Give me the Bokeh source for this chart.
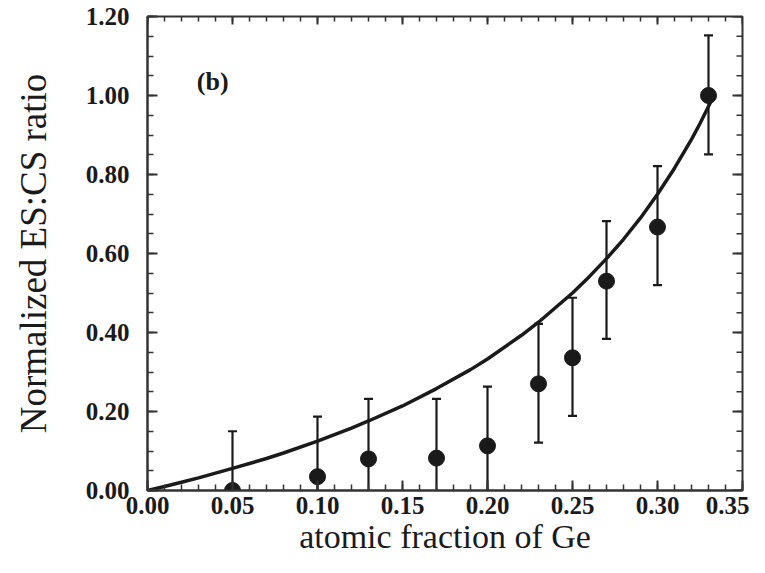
import math
from bokeh.plotting import figure
from bokeh.models import FixedTicker, Range1d
from bokeh.core.properties import value
from bokeh.embed import file_html
from bokeh.resources import INLINE

# ---- data ----
ge_fraction = [0.05, 0.10, 0.13, 0.17, 0.20, 0.23, 0.25, 0.27, 0.30, 0.33]
ratio = [0.0, 0.035, 0.080, 0.082, 0.113, 0.270, 0.336, 0.530, 0.667, 1.000]
err_upper = [0.150, 0.187, 0.232, 0.232, 0.263, 0.422, 0.488, 0.682, 0.821, 1.152]
err_lower = [-0.150, -0.117, -0.072, -0.068, -0.037, 0.121, 0.189, 0.384, 0.520, 0.851]

curve_x = [0.0, 0.01, 0.02, 0.03, 0.05, 0.07, 0.08, 0.10, 0.12, 0.13, 0.15, 0.17,
           0.19, 0.20, 0.22, 0.23, 0.25, 0.26, 0.27, 0.28, 0.29, 0.30, 0.31,
           0.32, 0.325, 0.332]
curve_y = [0.0, 0.010, 0.021, 0.032, 0.056, 0.081, 0.095, 0.125, 0.158, 0.176,
           0.214, 0.258, 0.306, 0.333, 0.393, 0.426, 0.500, 0.542, 0.587, 0.636,
           0.690, 0.750, 0.816, 0.889, 0.929, 0.99]

x_ticks = [0.00, 0.05, 0.10, 0.15, 0.20, 0.25, 0.30, 0.35]
x_tick_labels = ["0.00", "0.05", "0.10", "0.15", "0.20", "0.25", "0.30", "0.35"]
y_ticks = [0.0, 0.2, 0.4, 0.6, 0.8, 1.0, 1.2]
y_tick_labels = ["0.00", "0.20", "0.40", "0.60", "0.80", "1.00", "1.20"]
x_minor = [i / 100 for i in range(0, 36)]
y_minor = [i / 20 for i in range(0, 25)]

panel_label = "(b)"
x_title = "atomic fraction of Ge"
y_title = "Normalized ES:CS ratio"

X_MIN, X_MAX = 0.0, 0.35
Y_MIN, Y_MAX = 0.0, 1.2

INK = "#1a1a1a"
AXC = "#333333"
SERIF = "Liberation Serif"

p = figure(width=749, height=557, output_backend="svg", toolbar_location=None,
           x_range=Range1d(X_MIN, X_MAX), y_range=Range1d(Y_MIN, Y_MAX),
           min_border_left=147, min_border_right=7, min_border_top=16,
           min_border_bottom=66)
p.background_fill_color = "white"
p.border_fill_color = "white"
p.outline_line_color = AXC
p.outline_line_width = 2
p.xgrid.visible = False
p.ygrid.visible = False

xa = p.xaxis[0]
ya = p.yaxis[0]
xa.ticker = FixedTicker(ticks=x_ticks, minor_ticks=x_minor)
ya.ticker = FixedTicker(ticks=y_ticks, minor_ticks=y_minor)
xa.major_label_overrides = {t: l for t, l in zip(x_ticks, x_tick_labels)}
ya.major_label_overrides = {t: l for t, l in zip(y_ticks, y_tick_labels)}
for ax in (xa, ya):
    ax.axis_line_color = AXC
    ax.axis_line_width = 2
    ax.major_tick_in = 10
    ax.major_tick_out = 0
    ax.minor_tick_in = 6
    ax.minor_tick_out = 0
    ax.major_tick_line_color = AXC
    ax.minor_tick_line_color = AXC
    ax.major_tick_line_width = 2
    ax.minor_tick_line_width = 1.5
    ax.major_label_text_font = SERIF
    ax.major_label_text_font_size = "25px"
    ax.major_label_text_font_style = "bold"
    ax.major_label_text_color = INK
    ax.axis_label_text_font = SERIF
    ax.axis_label_text_font_style = "normal"
    ax.axis_label_text_color = INK
xa.major_label_standoff = 6
ya.major_label_standoff = 18
xa.axis_label = x_title
ya.axis_label = y_title
xa.axis_label_text_font_size = "34px"
ya.axis_label_text_font_size = "37px"
xa.axis_label_standoff = 1
ya.axis_label_standoff = 29

# mirrored inward ticks on the top and right frame edges (half of each dash is clipped)
p.dash(x=x_ticks, y=[Y_MAX] * len(x_ticks), angle=math.pi / 2, size=16,
       line_color=AXC, line_width=2)
p.dash(x=x_minor, y=[Y_MAX] * len(x_minor), angle=math.pi / 2, size=10,
       line_color=AXC, line_width=1.5)
p.dash(x=[X_MAX] * len(y_ticks), y=y_ticks, size=20, line_color=AXC, line_width=2)
p.dash(x=[X_MAX] * len(y_minor), y=y_minor, size=12, line_color=AXC, line_width=1.5)

# fitted curve
p.line(curve_x, curve_y, line_color=INK, line_width=3.5)

# error bars
p.segment(x0=ge_fraction, y0=err_lower, x1=ge_fraction, y1=err_upper,
          line_color=INK, line_width=2.2)
p.dash(ge_fraction, err_upper, size=9, line_color=INK, line_width=2.2)
p.dash(ge_fraction, err_lower, size=9, line_color=INK, line_width=2.2)

# points
p.scatter(ge_fraction, ratio, size=16, fill_color=INK, line_color=INK)

p.text(x=[0.029], y=[1.036], text=[panel_label], text_font=value(SERIF),
       text_font_size="26px", text_font_style="bold", text_color=INK,
       text_baseline="middle", text_align="left")

open("out.html", "w").write(file_html(p, INLINE))
